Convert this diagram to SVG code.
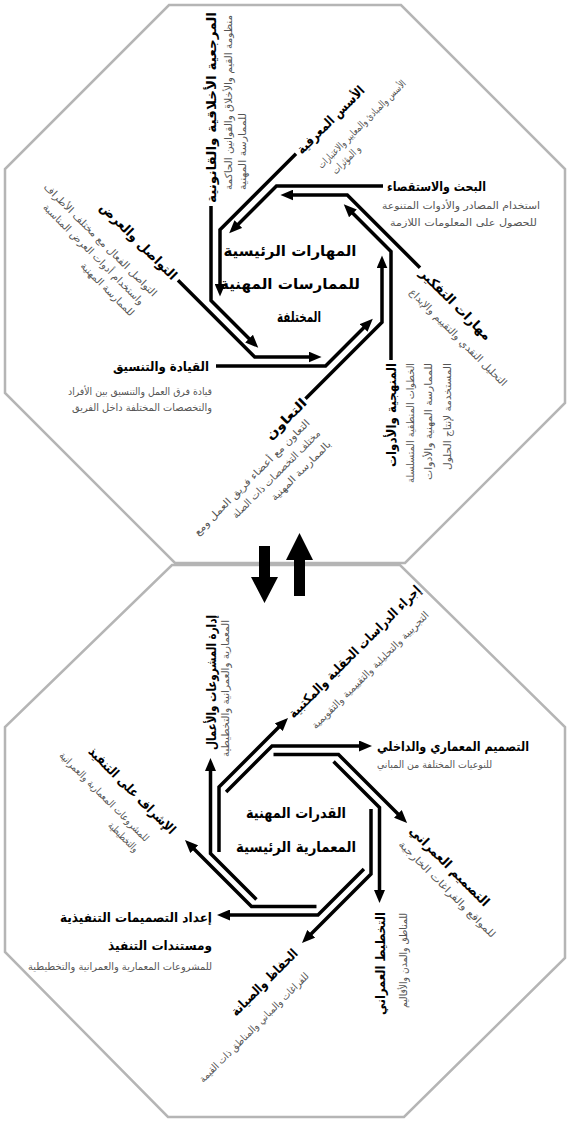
<svg xmlns="http://www.w3.org/2000/svg" width="571" height="1122" viewBox="0 0 571 1122">
<style>
  .oct{fill:#fff;stroke:#b5b5b5;stroke-width:2.5}
  .ln{fill:none;stroke:#000;stroke-width:3.5;stroke-linejoin:miter;marker-end:url(#ah)}
  .t{font-family:'DejaVu Sans',sans-serif;font-weight:bold;font-size:13px;fill:#000}
  .s{font-family:'DejaVu Sans',sans-serif;font-size:10px;fill:#555}
  .c{font-family:'DejaVu Sans',sans-serif;font-weight:bold;font-size:15px;fill:#000;text-anchor:middle}
  .e{text-anchor:end}
  .big{fill:#000}
</style>
<defs>
  <marker id="ah" markerUnits="userSpaceOnUse" markerWidth="13" markerHeight="11" refX="3" refY="5.5" orient="auto">
    <path d="M0,0 L13,5.5 L0,11 z" fill="#000"/>
  </marker>
</defs>
<rect width="571" height="1122" fill="#fff"/>

<!-- outer frames -->
<polygon id="frame-top" class="oct" points="169,5 401,5 565,169 565,403 405,563 175,563 5,393 5,169"/>
<polygon id="frame-bottom" class="oct" points="172,565 400,565 565,727 565,958 404,1117 168,1117 5,952 5,727"/>

<!-- transfer arrows between the two frames -->
<g id="transfer">
  <polygon class="big" points="259,546 270,546 270,577 278,577 264.5,603 251,577 259,577"/>
  <polygon class="big" points="294,596 305,596 305,560 313,560 299.5,533 286,560 294,560"/>
</g>

<!-- ring of connectors, upper frame -->
<g id="connectors-top">
  <polyline class="ln" points="420,267.72 347.28,195 290.45,195"/>
  <polyline class="ln" points="383,186 276.45,186 236.26,226.18"/>
  <polyline class="ln" points="296,153.72 220,229.72 220,286.55"/>
  <polyline class="ln" points="211,206 211,300.55 251.18,340.74"/>
  <polyline class="ln" points="178,280.28 254.72,357 311.55,357"/>
  <polyline class="ln" points="216,366 325.55,366 365.74,325.82"/>
  <polyline class="ln" points="305.5,398.78 382,322.28 382,265.45"/>
  <polyline class="ln" points="391,360 391,251.45 350.82,211.26"/>
</g>

<!-- ring of connectors, lower frame -->
<g id="connectors-bottom">
  <polyline class="ln" points="226.07,791.95 272.02,746 362,746"/>
  <polyline class="ln" points="273.5,754.5 338.5,754.5 400,816"/>
  <polyline class="ln" points="333.55,761.57 379.5,807.52 379.5,893"/>
  <polyline class="ln" points="371,809 371,874 309.07,935.93"/>
  <polyline class="ln" points="363.93,869.05 317.98,915 227,915"/>
  <polyline class="ln" points="316.48,906.5 251.5,906.5 192.07,847.07"/>
  <polyline class="ln" points="256.45,899.43 210.5,853.48 210.5,768"/>
  <polyline class="ln" points="219,851.98 219,787 280.93,725.07"/>
</g>

<!-- upper frame nodes -->
<g id="skills-center">
  <text class="c" x="290" y="256" textLength="133" lengthAdjust="spacingAndGlyphs">المهارات الرئيسية</text>
  <text class="c" x="290" y="289" textLength="140" lengthAdjust="spacingAndGlyphs">للممارسات المهنية</text>
  <text class="c" x="299" y="322" textLength="44" lengthAdjust="spacingAndGlyphs">المختلفة</text>
</g>
<g id="research">
  <text class="t" x="387" y="191" textLength="99" lengthAdjust="spacingAndGlyphs">البحث والاستقصاء</text>
  <text class="s e" x="540" y="209" textLength="158" lengthAdjust="spacingAndGlyphs">استخدام المصادر والأدوات المتنوعة</text>
  <text class="s e" x="537" y="226" textLength="147" lengthAdjust="spacingAndGlyphs">للحصول على المعلومات اللازمة</text>
</g>
<g id="foundations" transform="rotate(-45)">
  <text class="t e" x="194" y="323" textLength="90" lengthAdjust="spacingAndGlyphs">الأسس المعرفية</text>
  <text class="s" x="108" y="347" textLength="120" lengthAdjust="spacingAndGlyphs">الأسس والمبادئ والمعايير والاعتبارات</text>
  <text class="s" x="114" y="361" textLength="36" lengthAdjust="spacingAndGlyphs">و المؤثرات</text>
</g>
<g id="ethics" transform="rotate(-90)">
  <text class="t e" x="-12" y="216" textLength="191" lengthAdjust="spacingAndGlyphs">المرجعية الأخلاقية والقانونية</text>
  <text class="s e" x="-15" y="232" textLength="175" lengthAdjust="spacingAndGlyphs">منظومة القيم والأخلاق والقوانين الحاكمة</text>
  <text class="s e" x="-113" y="246" textLength="77" lengthAdjust="spacingAndGlyphs">للممارسة المهنية</text>
</g>
<g id="communication" transform="rotate(45)">
  <text class="t e" x="320" y="77" textLength="103" lengthAdjust="spacingAndGlyphs">التواصل والعرض</text>
  <text class="s e" x="318" y="102" textLength="155" lengthAdjust="spacingAndGlyphs">التواصل الفعال مع مختلف الأطراف</text>
  <text class="s e" x="315" y="117" textLength="138" lengthAdjust="spacingAndGlyphs">واستخدام أدوات العرض المناسبة</text>
  <text class="s e" x="316" y="132" textLength="71" lengthAdjust="spacingAndGlyphs">للممارسة المهنية</text>
</g>
<g id="leadership">
  <text class="t e" x="209" y="371" textLength="96" lengthAdjust="spacingAndGlyphs">القيادة والتنسيق</text>
  <text class="s e" x="212" y="395" textLength="144" lengthAdjust="spacingAndGlyphs">قيادة فرق العمل والتنسيق بين الأفراد</text>
  <text class="s e" x="212" y="411" textLength="140" lengthAdjust="spacingAndGlyphs">والتخصصات المختلفة داخل الفريق</text>
</g>
<g id="cooperation" transform="rotate(-45)">
  <text class="t e" x="-68" y="503" textLength="52" lengthAdjust="spacingAndGlyphs">التعاون</text>
  <text class="s e" x="-80" y="519" textLength="159" lengthAdjust="spacingAndGlyphs">التعاون مع أعضاء فريق العمل ومع</text>
  <text class="s e" x="-80" y="534" textLength="120" lengthAdjust="spacingAndGlyphs">مختلف التخصصات ذات الصلة</text>
  <text class="s e" x="-80" y="549" textLength="80" lengthAdjust="spacingAndGlyphs">بالممارسة المهنية</text>
</g>
<g id="methodology" transform="rotate(-90)">
  <text class="t e" x="-363" y="396" textLength="104" lengthAdjust="spacingAndGlyphs">المنهجية والأدوات</text>
  <text class="s e" x="-363" y="414" textLength="120" lengthAdjust="spacingAndGlyphs">الخطوات المنطقية المتسلسلة</text>
  <text class="s e" x="-363" y="432" textLength="117" lengthAdjust="spacingAndGlyphs">للممارسة المهنية والأدوات</text>
  <text class="s e" x="-363" y="451" textLength="107" lengthAdjust="spacingAndGlyphs">المستخدمة لإنتاج الحلول</text>
</g>
<g id="thinking" transform="rotate(45)">
  <text class="t e" x="585" y="-102.5" textLength="95" lengthAdjust="spacingAndGlyphs">مهارات التفكير</text>
  <text class="s e" x="629" y="-82" textLength="133" lengthAdjust="spacingAndGlyphs">التحليل النقدي والتقييم والإبداع</text>
</g>

<!-- lower frame nodes -->
<g id="abilities-center">
  <text class="c" x="296" y="818" textLength="100" lengthAdjust="spacingAndGlyphs">القدرات المهنية</text>
  <text class="c" x="296" y="852" textLength="120" lengthAdjust="spacingAndGlyphs">المعمارية الرئيسية</text>
</g>
<g id="management" transform="rotate(-90)">
  <text class="t e" x="-615" y="215.5" textLength="135" lengthAdjust="spacingAndGlyphs">إدارة المشروعات والأعمال</text>
  <text class="s e" x="-620" y="229" textLength="137" lengthAdjust="spacingAndGlyphs">المعمارية والعمرانية والتخطيطية</text>
</g>
<g id="studies" transform="rotate(-45)">
  <text class="t e" x="-119.5" y="716" textLength="181" lengthAdjust="spacingAndGlyphs">إجراء الدراسات الحقلية والمكتبية</text>
  <text class="s e" x="-131.5" y="739" textLength="161" lengthAdjust="spacingAndGlyphs">التجريبية والتحليلية والتقييمية والتقويمية</text>
</g>
<g id="arch-design">
  <text class="t" x="377" y="751" textLength="152" lengthAdjust="spacingAndGlyphs">التصميم المعماري والداخلي</text>
  <text class="s" x="377" y="768" textLength="115" lengthAdjust="spacingAndGlyphs">للنوعيات المختلفة من المباني</text>
</g>
<g id="urban-design" transform="rotate(45)">
  <text class="t e" x="984" y="299" textLength="107" lengthAdjust="spacingAndGlyphs">التصميم العمراني</text>
  <text class="s e" x="1011" y="316" textLength="132" lengthAdjust="spacingAndGlyphs">للمواقع والفراغات الخارجية</text>
</g>
<g id="planning" transform="rotate(-90)">
  <text class="t e" x="-912" y="384.5" textLength="103" lengthAdjust="spacingAndGlyphs">التخطيط العمراني</text>
  <text class="s e" x="-913" y="407" textLength="95" lengthAdjust="spacingAndGlyphs">للمناطق والمدن والأقاليم</text>
</g>
<g id="conservation" transform="rotate(-45)">
  <text class="t e" x="-463.8" y="886" textLength="88" lengthAdjust="spacingAndGlyphs">الحفاظ والصيانة</text>
  <text class="s e" x="-472" y="909.5" textLength="150" lengthAdjust="spacingAndGlyphs">للفراغات والمباني والمناطق ذات القيمة</text>
</g>
<g id="working-drawings">
  <text class="t e" x="212" y="922" textLength="152" lengthAdjust="spacingAndGlyphs">إعداد التصميمات التنفيذية</text>
  <text class="t e" x="212" y="950" textLength="104" lengthAdjust="spacingAndGlyphs">ومستندات التنفيذ</text>
  <text class="s e" x="212" y="970" textLength="184" lengthAdjust="spacingAndGlyphs">للمشروعات المعمارية والعمرانية والتخطيطية</text>
</g>
<g id="supervision" transform="rotate(45)">
  <text class="t e" x="711" y="470" textLength="117" lengthAdjust="spacingAndGlyphs">الإشراف على التنفيذ</text>
  <text class="s e" x="698" y="493" textLength="122" lengthAdjust="spacingAndGlyphs">للمشروعات المعمارية والعمرانية</text>
  <text class="s e" x="698" y="508" textLength="38" lengthAdjust="spacingAndGlyphs">والتخطيطية</text>
</g>
</svg>
